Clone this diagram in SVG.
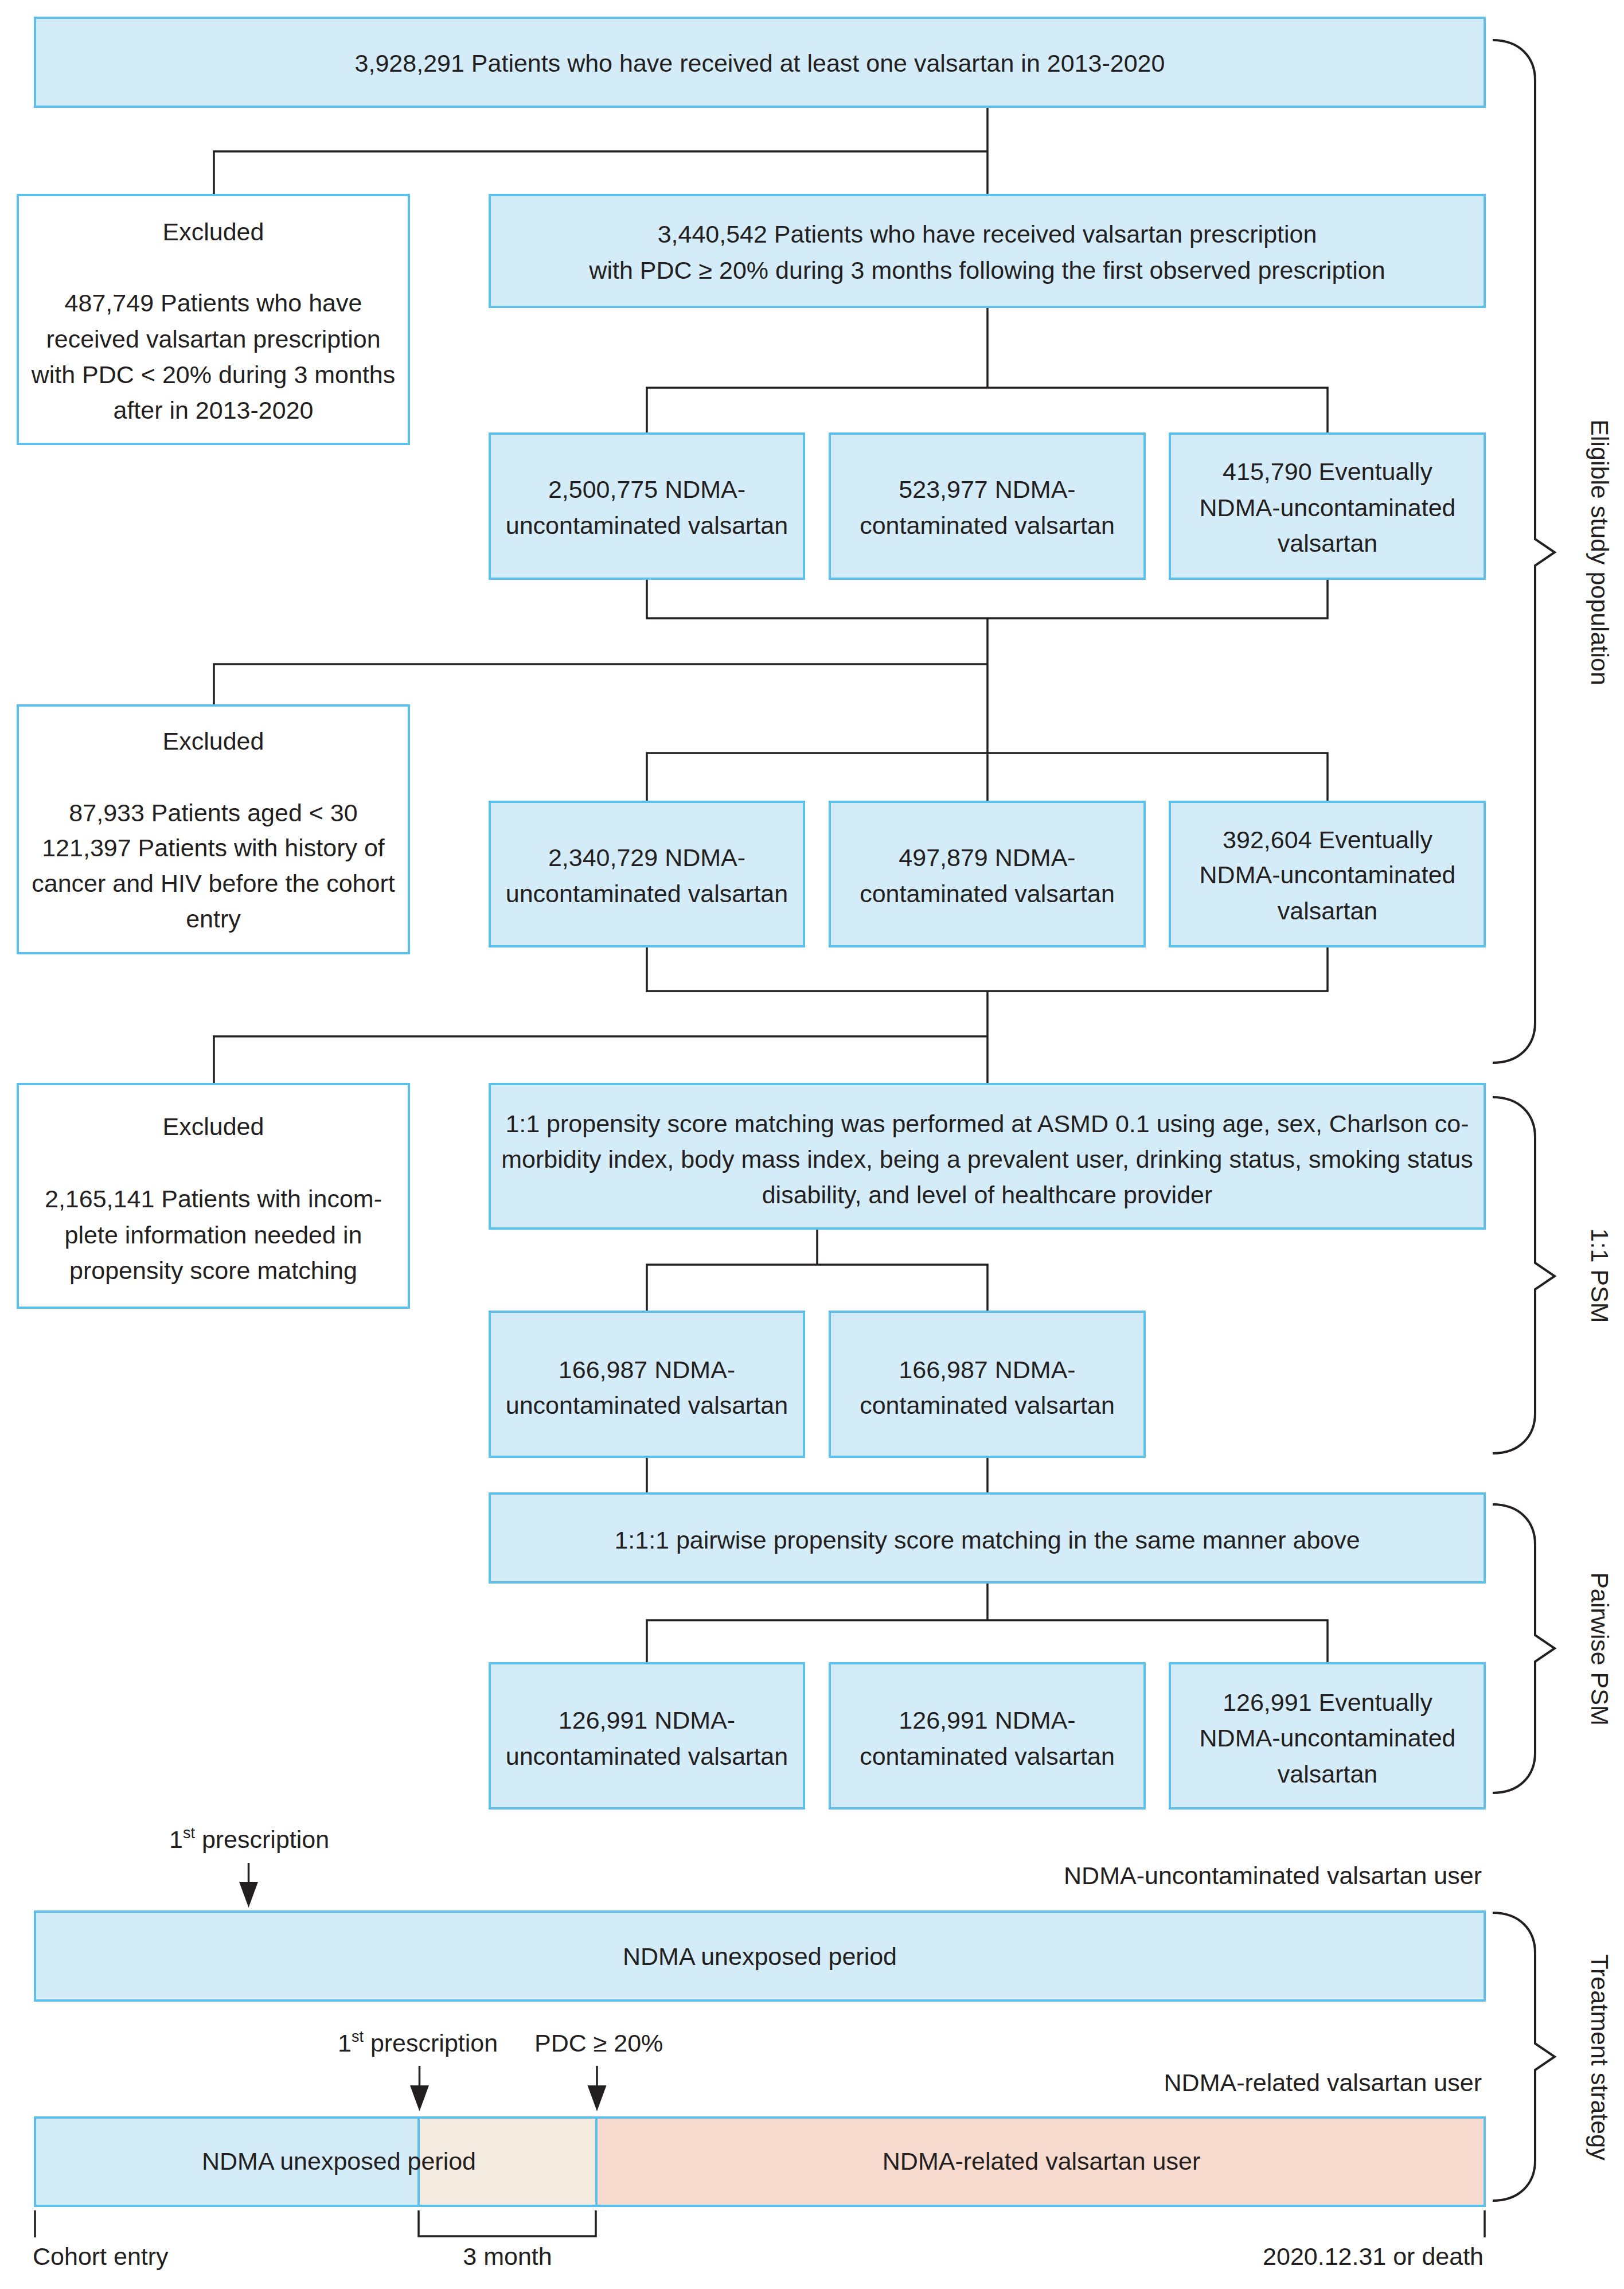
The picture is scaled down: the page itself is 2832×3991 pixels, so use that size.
<svg xmlns="http://www.w3.org/2000/svg" width="2832" height="3991" viewBox="0 0 2832 3991">
<style>
.box{fill:#d4ebf8;stroke:#5bc0eb;stroke-width:4}
.ex{fill:#ffffff;stroke:#5bc0eb;stroke-width:4}
.beige{fill:#f3ebdf;stroke:#5bc0eb;stroke-width:4}
.pink{fill:#f5dacd;stroke:#5bc0eb;stroke-width:4}
.ln{fill:none;stroke:#231f20;stroke-width:3.5}
.br{fill:none;stroke:#231f20;stroke-width:4}
text{font-family:"Liberation Sans",Arial,sans-serif;font-size:43px;fill:#231f20}
.c{text-anchor:middle}
.r{text-anchor:end}
</style>
<defs>
<marker id="ah" markerUnits="userSpaceOnUse" markerWidth="46" markerHeight="34" refX="25" refY="16.5" orient="auto">
<path d="M0,0 L45,16.5 L0,33 Z" fill="#231f20"/>
</marker>
</defs>
<rect width="2832" height="3991" fill="#ffffff"/>

<g id="connectors">
<path class="ln" d="M1722,186 V340 M373,340 V264 H1722"/>
<path class="ln" d="M1722,535 V676 M1128,756 V676 H2315 V756"/>
<path class="ln" d="M1128,1009 V1078 H2315 V1009 M1722,1078 V1398 M373,1230 V1158 H1722 M1128,1398 V1313 H2315 V1398"/>
<path class="ln" d="M1128,1650 V1728 H2315 V1650 M1722,1728 V1890 M373,1890 V1807 H1722"/>
<path class="ln" d="M1425,2142 V2205 M1128,2287 V2205 H1722 V2287"/>
<path class="ln" d="M1128,2540 V2604 M1722,2540 V2604"/>
<path class="ln" d="M1722,2759 V2825 M1128,2900 V2825 H2315 V2900"/>
<line class="ln" x1="433.5" y1="3248" x2="433.5" y2="3306" marker-end="url(#ah)"/>
<line class="ln" x1="731.5" y1="3602" x2="731.5" y2="3661" marker-end="url(#ah)"/>
<line class="ln" x1="1041" y1="3602" x2="1041" y2="3661" marker-end="url(#ah)"/>
<path class="ln" d="M61,3854 V3901 M2589,3854 V3901 M730,3854 V3899 H1039 V3854"/>
</g>

<g id="braces">
<path class="br" d="M2603,70 C2650,70 2677,100 2677,140 L2677,940 L2711,963 L2677,986 L2677,1783 C2677,1823 2650,1853 2603,1853"/>
<path class="br" d="M2603,1913 C2650,1913 2677,1943 2677,1983 L2677,2202 L2711,2225 L2677,2248 L2677,2464 C2677,2504 2650,2534 2603,2534"/>
<path class="br" d="M2603,2623 C2650,2623 2677,2653 2677,2693 L2677,2851 L2711,2874 L2677,2897 L2677,3056 C2677,3096 2650,3126 2603,3126"/>
<path class="br" d="M2603,3335 C2650,3335 2677,3365 2677,3405 L2677,3563 L2711,3586 L2677,3609 L2677,3767 C2677,3807 2650,3837 2603,3837"/>
<text class="c" transform="translate(2775,963) rotate(90)">Eligible study population</text>
<text class="c" transform="translate(2775,2224) rotate(90)">1:1 PSM</text>
<text class="c" transform="translate(2775,2875) rotate(90)">Pairwise PSM</text>
<text class="c" transform="translate(2775,3587) rotate(90)">Treatment strategy</text>
</g>

<g id="n-top">
<rect class="box" x="61" y="31" width="2528" height="155"/>
<text class="c" x="1325" y="125">3,928,291 Patients who have received at least one valsartan in 2013-2020</text>
</g>

<g id="n-excl1">
<rect class="ex" x="31" y="340" width="682" height="434"/>
<text class="c" x="372" y="419">Excluded</text>
<text class="c" x="372" y="543">487,749 Patients who have</text>
<text class="c" x="372" y="606">received valsartan prescription</text>
<text class="c" x="372" y="668">with PDC &lt; 20% during 3 months</text>
<text class="c" x="372" y="730">after in 2013-2020</text>
</g>

<g id="n-pdc">
<rect class="box" x="854" y="340" width="1735" height="195"/>
<text class="c" x="1721.5" y="423">3,440,542 Patients who have received valsartan prescription</text>
<text class="c" x="1721.5" y="486">with PDC ≥ 20% during 3 months following the first observed prescription</text>
</g>

<g id="n-r1a">
<rect class="box" x="854" y="756" width="548" height="253"/>
<text class="c" x="1128" y="868">2,500,775 NDMA-</text>
<text class="c" x="1128" y="931">uncontaminated valsartan</text>
</g>
<g id="n-r1b">
<rect class="box" x="1447" y="756" width="549" height="253"/>
<text class="c" x="1721.5" y="868">523,977 NDMA-</text>
<text class="c" x="1721.5" y="931">contaminated valsartan</text>
</g>
<g id="n-r1c">
<rect class="box" x="2040" y="756" width="549" height="253"/>
<text class="c" x="2315" y="837">415,790 Eventually</text>
<text class="c" x="2315" y="900">NDMA-uncontaminated</text>
<text class="c" x="2315" y="962">valsartan</text>
</g>

<g id="n-excl2">
<rect class="ex" x="31" y="1230" width="682" height="432"/>
<text class="c" x="372" y="1307">Excluded</text>
<text class="c" x="372" y="1432">87,933 Patients aged &lt; 30</text>
<text class="c" x="372" y="1493">121,397 Patients with history of</text>
<text class="c" x="372" y="1555">cancer and HIV before the cohort</text>
<text class="c" x="372" y="1617">entry</text>
</g>

<g id="n-r2a">
<rect class="box" x="854" y="1398" width="548" height="252"/>
<text class="c" x="1128" y="1510">2,340,729 NDMA-</text>
<text class="c" x="1128" y="1573">uncontaminated valsartan</text>
</g>
<g id="n-r2b">
<rect class="box" x="1447" y="1398" width="549" height="252"/>
<text class="c" x="1721.5" y="1510">497,879 NDMA-</text>
<text class="c" x="1721.5" y="1573">contaminated valsartan</text>
</g>
<g id="n-r2c">
<rect class="box" x="2040" y="1398" width="549" height="252"/>
<text class="c" x="2315" y="1479">392,604 Eventually</text>
<text class="c" x="2315" y="1540">NDMA-uncontaminated</text>
<text class="c" x="2315" y="1603">valsartan</text>
</g>

<g id="n-excl3">
<rect class="ex" x="31" y="1890" width="682" height="390"/>
<text class="c" x="372" y="1979">Excluded</text>
<text class="c" x="372" y="2105">2,165,141 Patients with incom-</text>
<text class="c" x="372" y="2168">plete information needed in</text>
<text class="c" x="372" y="2230">propensity score matching</text>
</g>

<g id="n-psm">
<rect class="box" x="854" y="1890" width="1735" height="252"/>
<text class="c" x="1721.5" y="1974">1:1 propensity score matching was performed at ASMD 0.1 using age, sex, Charlson co-</text>
<text class="c" x="1721.5" y="2036">morbidity index, body mass index, being a prevalent user, drinking status, smoking status</text>
<text class="c" x="1721.5" y="2098">disability, and level of healthcare provider</text>
</g>

<g id="n-p1a">
<rect class="box" x="854" y="2287" width="548" height="253"/>
<text class="c" x="1128" y="2403">166,987 NDMA-</text>
<text class="c" x="1128" y="2465">uncontaminated valsartan</text>
</g>
<g id="n-p1b">
<rect class="box" x="1447" y="2287" width="549" height="253"/>
<text class="c" x="1721.5" y="2403">166,987 NDMA-</text>
<text class="c" x="1721.5" y="2465">contaminated valsartan</text>
</g>

<g id="n-pair">
<rect class="box" x="854" y="2604" width="1735" height="155"/>
<text class="c" x="1721.5" y="2700">1:1:1 pairwise propensity score matching in the same manner above</text>
</g>

<g id="n-f1">
<rect class="box" x="854" y="2900" width="548" height="253"/>
<text class="c" x="1128" y="3014">126,991 NDMA-</text>
<text class="c" x="1128" y="3077">uncontaminated valsartan</text>
</g>
<g id="n-f2">
<rect class="box" x="1447" y="2900" width="549" height="253"/>
<text class="c" x="1721.5" y="3014">126,991 NDMA-</text>
<text class="c" x="1721.5" y="3077">contaminated valsartan</text>
</g>
<g id="n-f3">
<rect class="box" x="2040" y="2900" width="549" height="253"/>
<text class="c" x="2315" y="2983">126,991 Eventually</text>
<text class="c" x="2315" y="3045">NDMA-uncontaminated</text>
<text class="c" x="2315" y="3108">valsartan</text>
</g>

<g id="timeline1">
<text x="295" y="3222">1<tspan font-size="27" dy="-17">st</tspan><tspan dy="17"> prescription</tspan></text>
<text class="r" x="2584" y="3285">NDMA-uncontaminated valsartan user</text>
<rect class="box" x="61" y="3333" width="2528" height="155"/>
<text class="c" x="1325" y="3426">NDMA unexposed period</text>
</g>

<g id="timeline2">
<text x="589" y="3577">1<tspan font-size="27" dy="-17">st</tspan><tspan dy="17"> prescription</tspan></text>
<text x="932" y="3577">PDC ≥ 20%</text>
<text class="r" x="2584" y="3646">NDMA-related valsartan user</text>
<rect class="box" x="61" y="3692" width="669" height="154"/>
<rect class="beige" x="730" y="3692" width="310" height="154"/>
<rect class="pink" x="1040" y="3692" width="1549" height="154"/>
<text class="c" x="591" y="3783">NDMA unexposed period</text>
<text class="c" x="1816" y="3783">NDMA-related valsartan user</text>
<text x="57" y="3949">Cohort entry</text>
<text class="c" x="885" y="3949">3 month</text>
<text class="r" x="2587" y="3949">2020.12.31 or death</text>
</g>
</svg>
